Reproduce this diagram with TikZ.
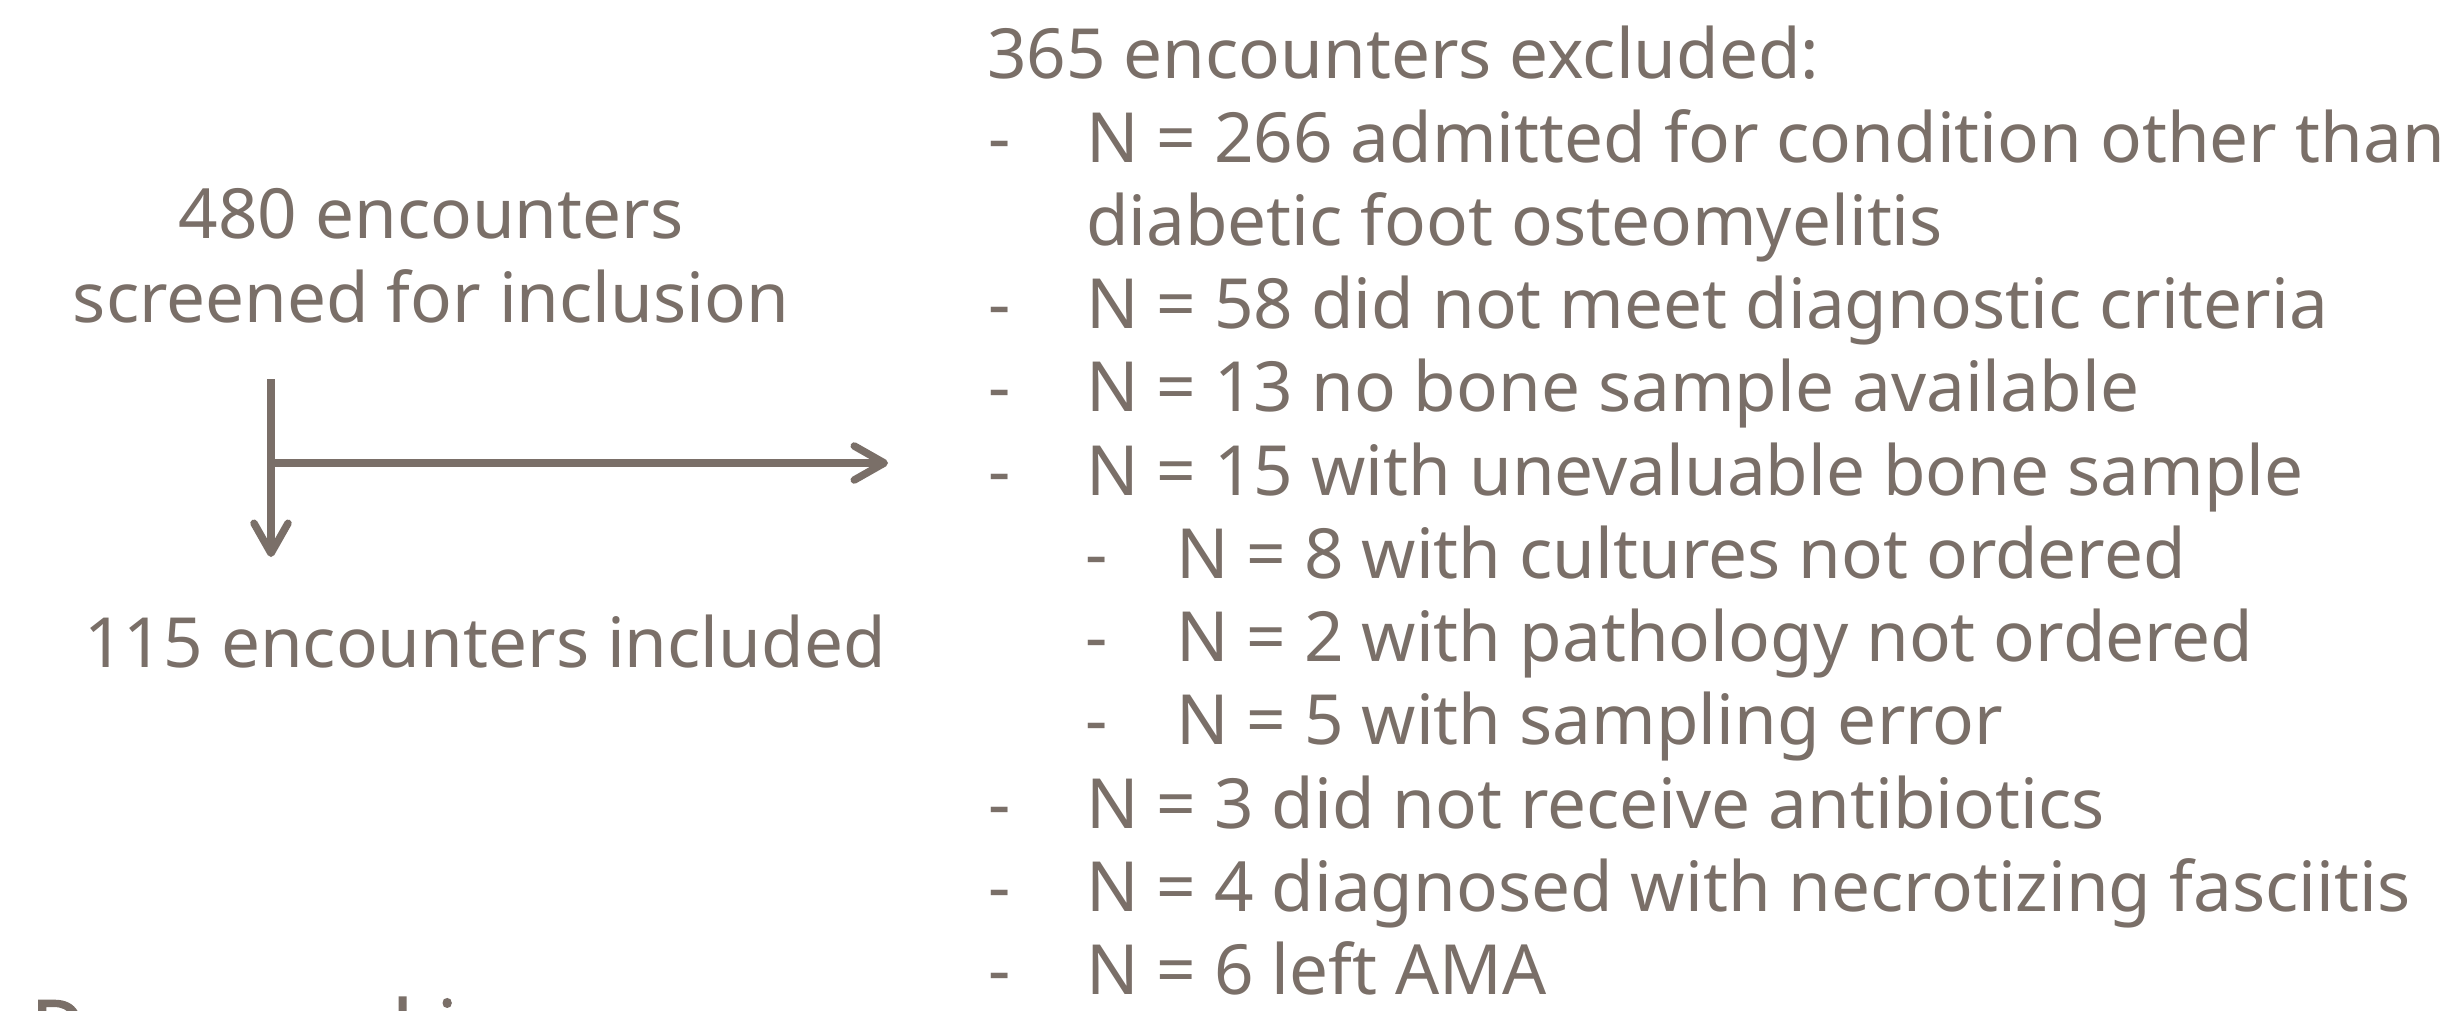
\documentclass[tikz,border=0pt]{standalone}
\usepackage{fontspec}
\setmainfont{Noto Sans}[AutoFakeBold=2.5]
\usetikzlibrary{arrows.meta}
\definecolor{txt}{RGB}{122,111,104}
\begin{document}
\begin{tikzpicture}[x=1pt,y=-1pt,
  lbl/.style={inner sep=0pt,outer sep=0pt,text=txt,font=\fontsize{69.2pt}{83pt}\selectfont},
  arr/.style={draw=txt,line width=7.5pt,-{Straight Barb[length=30pt,width=34pt,round]}}]
\useasboundingbox[fill=white] (0,0) rectangle (2463,1010);
% left column
\node[lbl,anchor=base] (s1) at (431,238) {480 encounters};
\node[lbl,anchor=base] (s2) at (431,322) {screened for inclusion};
\node[lbl,anchor=base] (inc) at (485,667) {115 encounters included};
\coordinate (vtop) at (271,379);
\coordinate (vbot) at (271,557);
\coordinate (hsplit) at (271,463);
\coordinate (hend) at (888,463);
\draw[arr] (vtop) -- (vbot);
\draw[arr] (hsplit) -- (hend);
% right column
\node[lbl,anchor=base west] (ex0) at (987,78) {365 encounters excluded:};
\node[lbl,anchor=base west] (d1) at (988,162) {-};
\node[lbl,anchor=base west] (ex1) at (1086,162) {N = 266 admitted for condition other than};
\node[lbl,anchor=base west] (ex1b) at (1086,245) {diabetic foot osteomyelitis};
\node[lbl,anchor=base west] (d2) at (988,328) {-};
\node[lbl,anchor=base west] (ex2) at (1086,328) {N = 58 did not meet diagnostic criteria};
\node[lbl,anchor=base west] (d3) at (988,411) {-};
\node[lbl,anchor=base west] (ex3) at (1086,411) {N = 13 no bone sample available};
\node[lbl,anchor=base west] (d4) at (988,495) {-};
\node[lbl,anchor=base west] (ex4) at (1086,495) {N = 15 with unevaluable bone sample};
\node[lbl,anchor=base west] (d5) at (1085,578) {-};
\node[lbl,anchor=base west] (ex5) at (1176,578) {N = 8 with cultures not ordered};
\node[lbl,anchor=base west] (d6) at (1085,661) {-};
\node[lbl,anchor=base west] (ex6) at (1176,661) {N = 2 with pathology not ordered};
\node[lbl,anchor=base west] (d7) at (1085,744) {-};
\node[lbl,anchor=base west] (ex7) at (1176,744) {N = 5 with sampling error};
\node[lbl,anchor=base west] (d8) at (988,828) {-};
\node[lbl,anchor=base west] (ex8) at (1086,828) {N = 3 did not receive antibiotics};
\node[lbl,anchor=base west] (d9) at (988,911) {-};
\node[lbl,anchor=base west] (ex9) at (1086,911) {N = 4 diagnosed with necrotizing fasciitis};
\node[lbl,anchor=base west] (d10) at (988,994) {-};
\node[lbl,anchor=base west] (ex10) at (1086,994) {N = 6 left AMA};
% clipped title at bottom
\begin{scope}
\clip (0,0) rectangle (2463,1010);
\node[lbl,anchor=base west,font=\fontsize{72pt}{86pt}\selectfont\bfseries] (demo) at (32,1052) {Demographics};
\end{scope}
\end{tikzpicture}
\end{document}
